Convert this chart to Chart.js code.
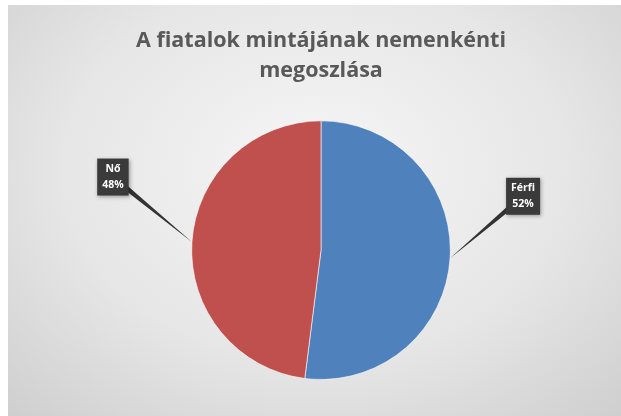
<!DOCTYPE html>
<html>
<head>
<meta charset="utf-8">
<script src="https://cdn.jsdelivr.net/npm/chart.js@4/dist/chart.umd.min.js"></script>
<style>
  html, body { margin: 0; padding: 0; background: #fff; }
  #wrap {
    position: absolute; left: 8px; top: 5px; width: 613px; height: 411px;
    background: radial-gradient(ellipse 75% 85% at 50% 40%, #f6f6f6 0%, #e6e6e6 55%, #cdcdcd 100%);
  }
  canvas { display: block; }
</style>
</head>
<body>
<div id="wrap"><canvas id="chart" width="613" height="411"></canvas></div>
<script>
const labels = ['Férfi', 'Nő']
const values = [52, 48]
const colors = ['#4f81bd', '#c0504d']
// where each callout box sits, relative to the edge point of its slice
const calloutShift = [[73, -62], [-79, -65]]

const ctx = document.getElementById('chart').getContext('2d')

const callouts = {
    id: 'callouts',
    afterDatasetsDraw(chart) {
        const c = chart.ctx
        const meta = chart.getDatasetMeta(0)
        const total = values.reduce((a, b) => a + b, 0)
        meta.data.forEach(function(arc, i) {
            const mid = (arc.startAngle + arc.endAngle) / 2
            const ax = arc.x + Math.cos(mid) * arc.outerRadius
            const ay = arc.y + Math.sin(mid) * arc.outerRadius
            const bx = ax + calloutShift[i][0]
            const by = ay + calloutShift[i][1]
            const pct = Math.round(values[i] / total * 100) + '%'
            c.save()
            c.font = 'bold 10.5px "Open Sans", sans-serif'
            const w = Math.max(c.measureText(labels[i]).width, c.measureText(pct).width) + 10
            const h = 37
            // tapered leader from the box to the slice edge
            const dx = ax - bx, dy = ay - by
            const len = Math.hypot(dx, dy)
            const nx = -dy / len * 3, ny = dx / len * 3
            c.fillStyle = '#333'
            c.beginPath()
            c.moveTo(bx + nx, by + ny)
            c.lineTo(ax, ay)
            c.lineTo(bx - nx, by - ny)
            c.closePath()
            c.fill()
            c.shadowColor = 'rgba(0,0,0,0.35)'
            c.shadowBlur = 4
            c.shadowOffsetX = 1
            c.shadowOffsetY = 1
            c.fillStyle = '#3a3a3a'
            c.fillRect(bx - w / 2, by - h / 2, w, h)
            c.shadowColor = 'transparent'
            c.fillStyle = '#fff'
            c.textAlign = 'center'
            c.textBaseline = 'middle'
            c.fillText(labels[i], bx, by - 8)
            c.fillText(pct, bx, by + 8)
            c.restore()
        })
    }
}

new Chart(ctx, {
    type: 'pie',
    data: {
        labels: labels,
        datasets: [{
            data: values,
            backgroundColor: colors,
            borderColor: 'rgba(255,255,255,0.6)',
            borderWidth: 1,
            hoverOffset: 0
        }]
    },
    options: {
        responsive: false,
        animation: false,
        layout: { padding: { top: 0, bottom: 36, left: 13, right: 0 } },
        plugins: {
            legend: { display: false },
            tooltip: { enabled: false },
            title: {
                display: true,
                text: ['A fiatalok mintájának nemenkénti', 'megoszlása'],
                color: '#595959',
                font: { family: '"Open Sans", sans-serif', size: 21.5, weight: 'bold', lineHeight: 1.38 },
                padding: { top: 21, bottom: 35 }
            }
        }
    },
    plugins: [callouts]
})
</script>
</body>
</html>
